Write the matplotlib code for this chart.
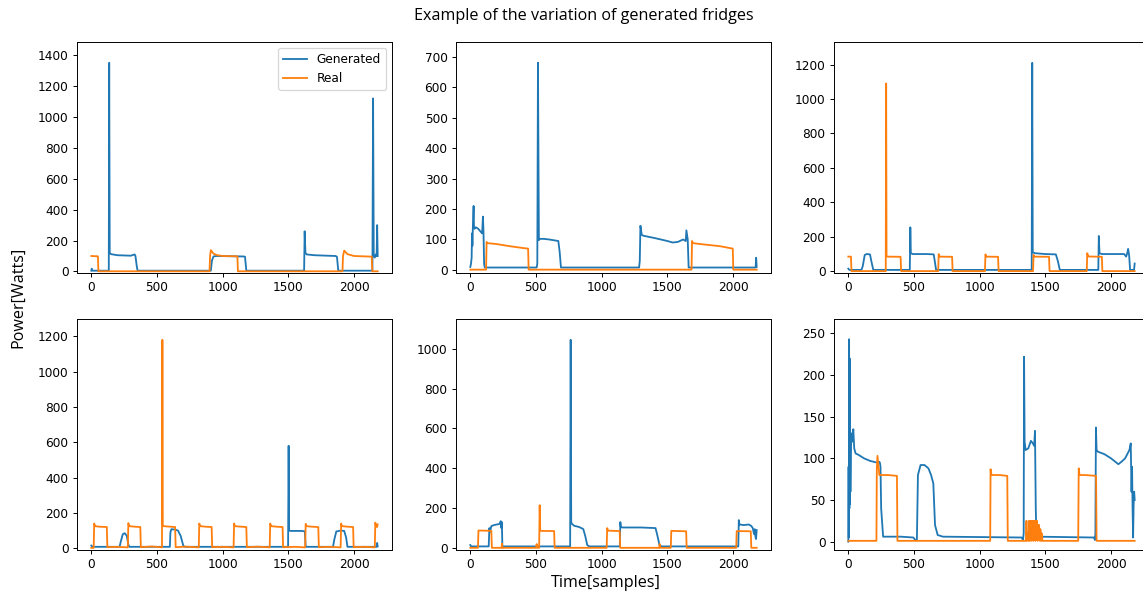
# -*- coding: utf-8 -*-
"""
Generated vs real fridge power traces (6 examples)
"""

import matplotlib
matplotlib.use("Agg")
import matplotlib.pyplot as plt

# ---- data (break points of each trace) ----

# panel 1
gen1_x = [0, 3, 6, 10, 133, 136, 140, 150, 200, 300, 330, 336, 345, 352,
          910, 918, 930, 950, 1160, 1170, 1180,
          1620, 1624, 1630, 1640, 1700, 1860, 1870, 1880,
          2140, 2145, 2150, 2158, 2165, 2172, 2176, 2180]
gen1_y = [5, 18, 12, 5, 5, 1350, 120, 112, 105, 102, 110, 100, 40, 5,
          5, 70, 97, 100, 97, 95, 5,
          5, 260, 120, 110, 105, 100, 95, 5,
          5, 1120, 100, 90, 110, 100, 300, 100]
real1_x = [0, 50, 54, 900, 904, 910, 930, 960, 1000, 1112, 1116,
           1912, 1916, 1925, 1950, 2000, 2135, 2139, 2180]
real1_y = [100, 98, 1, 1, 100, 138, 115, 105, 100, 98, 1,
           1, 100, 135, 112, 100, 96, 1, 1]

# panel 2
gen2_x = [0, 5, 10, 13, 16, 20, 25, 28, 32, 40,
          50, 60, 70, 80, 90, 96, 100, 105, 110,
          505, 510, 515, 522, 530, 560, 600, 670, 680, 690,
          1285, 1290, 1295, 1305, 1320, 1400, 1500, 1540, 1580, 1620,
          1640, 1645, 1655, 1662, 2172, 2176, 2180]
gen2_y = [10, 20, 40, 120, 80, 150, 210, 140, 135, 140,
          138, 135, 130, 125, 120, 175, 130, 20, 8,
          8, 20, 680, 98, 102, 102, 100, 95, 60, 8,
          8, 30, 145, 115, 112, 105, 95, 90, 92, 100,
          95, 130, 100, 8, 8, 40, 10]
real2_x = [0, 120, 124, 130, 200, 300, 400, 440, 444,
           1684, 1688, 1695, 1750, 1900, 1998, 2002, 2180]
real2_y = [1, 1, 92, 88, 85, 78, 72, 70, 1,
           1, 95, 88, 85, 78, 70, 1, 1]

# panel 3
gen3_x = [0, 3, 8, 100, 110, 125, 140, 165, 175, 190,
          468, 472, 476, 490, 600, 650, 660, 668,
          1396, 1400, 1404, 1420, 1500, 1580, 1595, 1610,
          1903, 1907, 1912, 1930, 2000, 2100, 2115, 2125, 2130, 2138,
          2145, 2175, 2180]
gen3_y = [15, 12, 8, 8, 30, 95, 100, 98, 60, 8,
          8, 255, 105, 100, 100, 98, 50, 8,
          8, 1210, 110, 105, 100, 98, 60, 8,
          8, 205, 105, 100, 100, 100, 85, 110, 130, 90,
          8, 8, 45]
real3_x = [0, 20, 24, 285, 288, 291, 300, 398, 402,
           684, 688, 695, 790, 794,
           1040, 1044, 1050, 1140, 1144,
           1406, 1410, 1418, 1528, 1532,
           1815, 1819, 1826, 1930, 1934, 2180]
real3_y = [85, 85, 1, 1, 1090, 88, 85, 84, 1,
           1, 100, 85, 84, 1,
           1, 98, 85, 84, 1,
           1, 95, 85, 84, 1,
           1, 105, 86, 84, 1, 1]

# panel 4
gen4_x = [0, 3, 8, 215, 225, 240, 255, 270, 282, 290,
          598, 602, 610, 640, 660, 680, 700, 710,
          1498, 1502, 1506, 1515, 1600, 1625, 1632,
          1840, 1850, 1865, 1900, 1925, 1940, 1950,
          2170, 2176, 2180]
gen4_y = [15, 12, 8, 8, 40, 80, 85, 70, 20, 8,
          8, 90, 108, 105, 100, 70, 15, 8,
          8, 580, 100, 98, 98, 96, 8,
          8, 50, 95, 100, 98, 60, 8,
          8, 30, 10]
real4_x = [0, 18, 22, 28, 60, 118, 122, 200,
           278, 282, 288, 330, 373, 377, 460,
           538, 541, 544, 550, 600, 638, 642, 720,
           818, 822, 828, 870, 916, 920, 1000,
           1083, 1087, 1093, 1140, 1180, 1184, 1270,
           1358, 1362, 1368, 1410, 1456, 1460, 1550,
           1628, 1632, 1638, 1680, 1728, 1732, 1820,
           1898, 1902, 1908, 1950, 1993, 1997, 2080,
           2158, 2162, 2168, 2175, 2180]
real4_y = [2, 2, 140, 125, 122, 120, 6, 8,
           5, 142, 125, 122, 120, 6, 10,
           5, 1180, 130, 125, 122, 120, 6, 9,
           5, 140, 125, 122, 120, 6, 8,
           5, 140, 125, 122, 120, 6, 9,
           5, 140, 125, 122, 120, 6, 8,
           5, 138, 125, 122, 120, 6, 8,
           5, 140, 125, 122, 120, 6, 8,
           5, 145, 125, 120, 135]

# panel 5
gen5_x = [0, 3, 8, 140, 145, 150, 160, 180, 200, 220,
          232, 236, 240, 244,
          760, 764, 768, 775, 790, 830, 860, 875, 890, 905,
          1138, 1142, 1146, 1160, 1300, 1410, 1425, 1440, 1455,
          2040, 2044, 2048, 2055, 2080, 2120, 2140, 2150, 2160, 2165,
          2170, 2175, 2180]
gen5_y = [15, 10, 8, 8, 100, 80, 110, 115, 118, 120,
          135, 100, 130, 8,
          8, 1045, 130, 120, 112, 105, 95, 60, 15, 8,
          8, 130, 105, 103, 103, 100, 60, 15, 8,
          8, 140, 115, 118, 115, 118, 110, 100, 70, 95,
          60, 45, 90]
real5_x = [0, 58, 62, 160, 164, 238, 241, 245,
           500, 505, 510, 524, 528, 532, 540, 638, 642,
           1038, 1042, 1048, 1137, 1141, 1438, 1441, 1445,
           1526, 1530, 1643, 1647, 2024, 2028, 2135, 2139, 2180]
real5_y = [1, 1, 88, 86, 1, 1, 22, 1,
           1, 20, 1, 1, 215, 88, 86, 85, 1,
           1, 100, 87, 85, 1, 1, 20, 1,
           1, 86, 84, 1, 1, 85, 84, 1, 1]

# panel 6
gen6_x = [0, 2, 4, 6, 8, 10, 12, 14, 16, 20,
          25, 30, 38, 45, 55, 80, 120, 165, 216, 234,
          240, 245, 250, 265, 400, 495, 510, 522, 530, 550,
          580, 610, 630, 647, 660, 680, 720,
          1320, 1330, 1335, 1338, 1342, 1350, 1370, 1390, 1405, 1415,
          1421, 1427, 1432, 1440,
          1870, 1877, 1881, 1885, 1890, 1900, 1950, 2000, 2056, 2080,
          2107, 2140, 2150, 2156, 2160, 2164, 2168, 2172, 2176, 2180]
gen6_y = [0, 90, 5, 243, 40, 220, 45, 120, 60, 115,
          130, 120, 135, 112, 106, 104, 100, 97, 95, 96,
          95, 90, 40, 6, 6, 5, 2, 2, 80, 92,
          92, 88, 80, 70, 20, 8, 6,
          5, 2, 10, 222, 120, 110, 112, 121, 118, 115,
          133, 40, 6, 6,
          5, 2, 10, 137, 110, 108, 105, 100, 93, 96,
          100, 110, 118, 60, 90, 40, 5, 45, 60, 50]
real6_x = [0, 214, 217, 222, 236, 245, 300, 370, 374,
           1080, 1083, 1090, 1150, 1210, 1214,
           1352, 1356, 1360, 1364, 1372, 1376, 1380, 1384, 1388, 1392,
           1396, 1400, 1404, 1408, 1412, 1416, 1420, 1424, 1428, 1432,
           1436, 1440, 1444, 1448, 1452, 1458, 1462, 1468, 1472, 1478,
           1750, 1754, 1760, 1800, 1886, 1890, 2180]
real6_y = [1, 1, 88, 103, 80, 80, 80, 79, 1,
           1, 87, 80, 80, 79, 1,
           1, 25, 1, 10, 1, 25, 1, 18, 25, 1,
           25, 5, 25, 1, 25, 8, 25, 1, 25, 12,
           25, 1, 20, 3, 20, 1, 15, 1, 10, 1,
           1, 88, 80, 80, 79, 1, 1]

panels = [(gen1_x, gen1_y, real1_x, real1_y),
          (gen2_x, gen2_y, real2_x, real2_y),
          (gen3_x, gen3_y, real3_x, real3_y),
          (gen4_x, gen4_y, real4_x, real4_y),
          (gen5_x, gen5_y, real5_x, real5_y),
          (gen6_x, gen6_y, real6_x, real6_y)]

# ---- figure ----
# the original looks like a default figure shrunk a bit, so use a lower dpi
W, H, DPI = 1143, 595, 87
fig = plt.figure(figsize=(W/DPI, H/DPI), dpi=DPI)

# axes placed in pixels (right column runs off the edge like the original)
lefts = [77, 456, 834]
tops = [42, 319]
aw, ah = 315, 231

for k, (gx, gy, rx, ry) in enumerate(panels):
    row, col = divmod(k, 3)
    ax = fig.add_axes([lefts[col]/W, 1 - (tops[row] + ah)/H, aw/W, ah/H])
    ax.plot(gx, gy, color='tab:blue', lw=1.5, label='Generated')
    ax.plot(rx, ry, color='tab:orange', lw=1.5, label='Real')
    ax.set_xticks([0, 500, 1000, 1500, 2000])
    ax.set_ylim(-10, 1.1*max(max(gy), max(ry)))
    if k == 0:
        ax.legend(loc='upper right')

fig.text(0.511, 1 - 16/H, "Example of the variation of generated fridges",
         ha='center', va='center', fontsize=13.3, family='Open Sans')
fig.text(18/W, 0.5, "Power[Watts]", rotation=90, ha='center', va='center',
         fontsize=13.3, family='Open Sans')
fig.text(606/W, 1 - 583/H, "Time[samples]", ha='center', va='center',
         fontsize=13.3, family='Open Sans')

fig.savefig("out.png", dpi=DPI)
plt.close(fig)
